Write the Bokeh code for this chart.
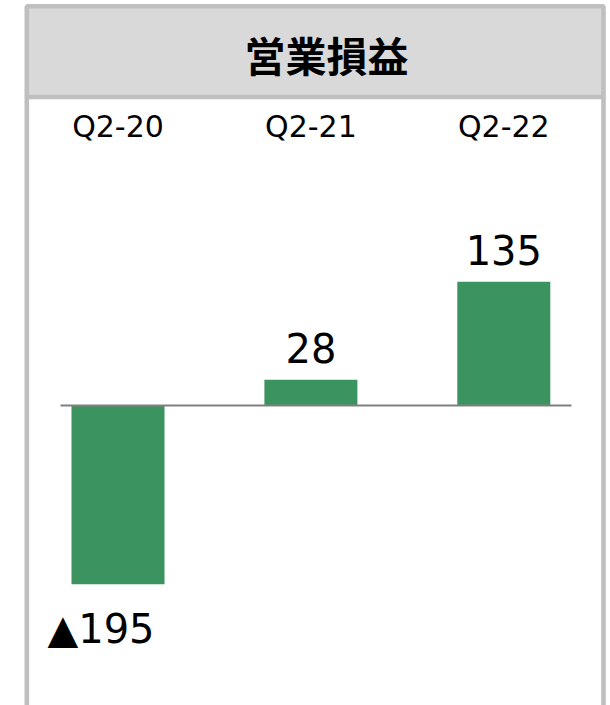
from bokeh.plotting import figure
from bokeh.models import Range1d, ColumnDataSource
from bokeh.core.properties import value
from bokeh.embed import file_html
from bokeh.resources import INLINE

# ---- data ----
title_text = "営業損益"
categories = ["Q2-20", "Q2-21", "Q2-22"]
values = [-195, 28, 135]

# ---- layout constants (page pixels) ----
W, H = 610, 705
OX, OY = 0, 0            # canvas origin on page
STEP = 192.9             # px per category
X0PX = 117.5             # page x of first category centre
SCALE = 0.917            # px per unit
BASEPX = 405             # page y of zero line

x_start = -(X0PX - OX) / STEP
x_end = x_start + W / STEP
y_end = (BASEPX - OY) / SCALE
y_start = y_end - H / SCALE


def X(px):
    return x_start + (px - OX) / STEP


def Y(py):
    return y_end - (py - OY) / SCALE


p = figure(width=W, height=H, output_backend="svg", toolbar_location=None,
           x_range=Range1d(x_start, x_end), y_range=Range1d(y_start, y_end),
           x_axis_location=None, y_axis_location=None, min_border=0)
p.grid.visible = False
p.outline_line_color = None
p.background_fill_color = "white"
p.border_fill_color = "white"

BORDER = "#bfbfbf"
# header box
p.quad(left=[X(26.3)], right=[X(603)], top=[Y(5.7)], bottom=[Y(96.5)],
       fill_color="#d9d9d9", line_color=BORDER, line_width=4.6)
# side borders
p.segment(x0=[X(26.3), X(603)], y0=[Y(96.5), Y(96.5)],
          x1=[X(26.3), X(603)], y1=[Y(720), Y(720)],
          line_color=BORDER, line_width=4.6)

p.text(x=[X(325.9)], y=[Y(53.3)], text=[title_text],
       text_font=value("Noto Sans CJK JP"), text_font_style="bold",
       text_font_size="41px", text_align="center", text_baseline="middle",
       text_color="black")

idx = list(range(len(categories)))
p.text(x=idx, y=[Y(125.9)] * len(idx), text=categories,
       text_font=value("DejaVu Sans"), text_font_size="30px",
       text_align="center", text_baseline="middle", text_color="black")

# bars
src = ColumnDataSource(dict(
    x=idx, top=values,
    label=[("▲" + str(abs(v))) if v < 0 else str(v) for v in values],
    yoff=[44.5 if v < 0 else -32 for v in values],
    xoff=[-17 if v < 0 else 0 for v in values],
))
p.vbar(x="x", top="top", bottom=0, width=93 / STEP, source=src,
       fill_color="#3b935f", line_color=None)

# zero line
p.segment(x0=[X(60)], y0=[0], x1=[X(571)], y1=[0],
          line_color="#808080", line_width=2)

p.text(x="x", y="top", text="label", x_offset="xoff", y_offset="yoff", source=src,
       text_font=value("DejaVu Sans"), text_font_size="40px",
       text_align="center", text_baseline="middle", text_color="black")

html = file_html(p, INLINE)
open("out.html", "w").write(html)
